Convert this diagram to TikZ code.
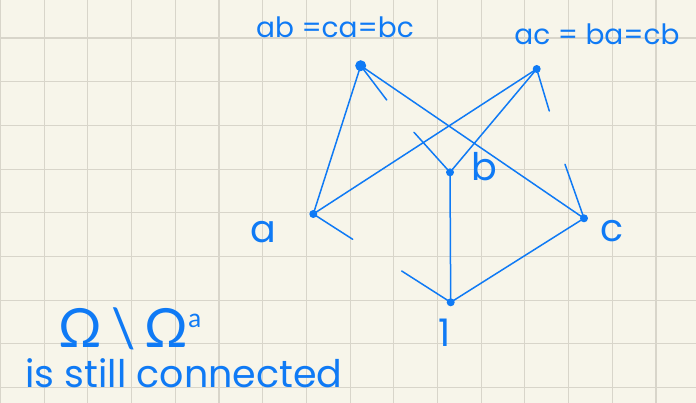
\documentclass[tikz,border=0pt]{standalone}
\usepackage{fontspec}
\setmainfont{Poppins}
\newfontfamily\greekfont{Lato}
\definecolor{paper}{RGB}{247,245,234}
\definecolor{gridc}{RGB}{216,213,202}
\definecolor{ink}{RGB}{15,122,245}
\begin{document}
\begin{tikzpicture}[x=1pt,y=-1pt,
  dot/.style={circle,fill=ink,inner sep=0pt,minimum size=8pt},
  bigdot/.style={circle,fill=ink,inner sep=0pt,minimum size=11pt},
  edge/.style={draw=ink,line width=1.5pt,line cap=round},
  lbl/.style={text=ink,inner sep=0pt,font=\fontsize{38}{40}\selectfont},
  toplbl/.style={text=ink,inner sep=0pt,font=\fontsize{28}{30}\selectfont}]
\fill[paper] (0,0) rectangle (696,403);
\useasboundingbox (0,0) rectangle (696,403);
\foreach \k in {0,...,15}{\draw[gridc,line width=1.1pt] (0.5+43.7*\k,0) -- (0.5+43.7*\k,403);}
\foreach \k in {0,...,8}{\draw[gridc,line width=1.1pt] (0,38+43.7*\k) -- (696,38+43.7*\k);}
% nodes
\node[bigdot] (ab) at (360.7,65.7) {};
\node[dot] (ac) at (536.7,69) {};
\node[dot] (b) at (450,172.3) {};
\node[dot] (a) at (313.3,214) {};
\node[dot] (c) at (584,218.3) {};
\node[dot] (one) at (450.7,302.3) {};
% connectors
\draw[edge] (ab.center) -- (a.center);
\draw[edge] (ab.center) -- (c.center);
\draw[edge] (ac.center) -- (a.center);
\draw[edge] (ac.center) -- (b.center);
\draw[edge] (b.center) -- (one.center);
\draw[edge] (c.center) -- (one.center);
% half arrow ticks
\coordinate (tab) at (386.7,100);
\coordinate (tac) at (549.3,111);
\coordinate (tb) at (414,132.3);
\coordinate (ta) at (352.7,239.3);
\coordinate (tc) at (565,164.3);
\coordinate (tone) at (401.7,271);
\draw[edge] (ab.center) -- (tab);
\draw[edge] (ac.center) -- (tac);
\draw[edge] (tb) -- (b.center);
\draw[edge] (a.center) -- (ta);
\draw[edge] (tc) -- (c.center);
\draw[edge] (tone) -- (one.center);
% labels
\node[toplbl] (lab) at (335,27) {ab =ca=bc};
\node[toplbl] (lac) at (597,34) {ac = ba=cb};
\node[lbl] (lb) at (484,167) {b};
\node[lbl] (la) at (263,232) {a};
\node[lbl] (lc) at (612,231) {c};
\node[lbl] (lone) at (445,333) {1};
\node[text=ink,inner sep=0pt,font=\fontsize{54}{56}\selectfont\greekfont] (om) at (130,329) {Ω\,\textbackslash\,Ω\raisebox{20pt}{\fontsize{26}{28}\selectfont a}};
\node[lbl,font=\fontsize{38}{40}\selectfont,anchor=base,text depth=0pt] (conn) at (184,387) {is still connected};
\end{tikzpicture}
\end{document}
